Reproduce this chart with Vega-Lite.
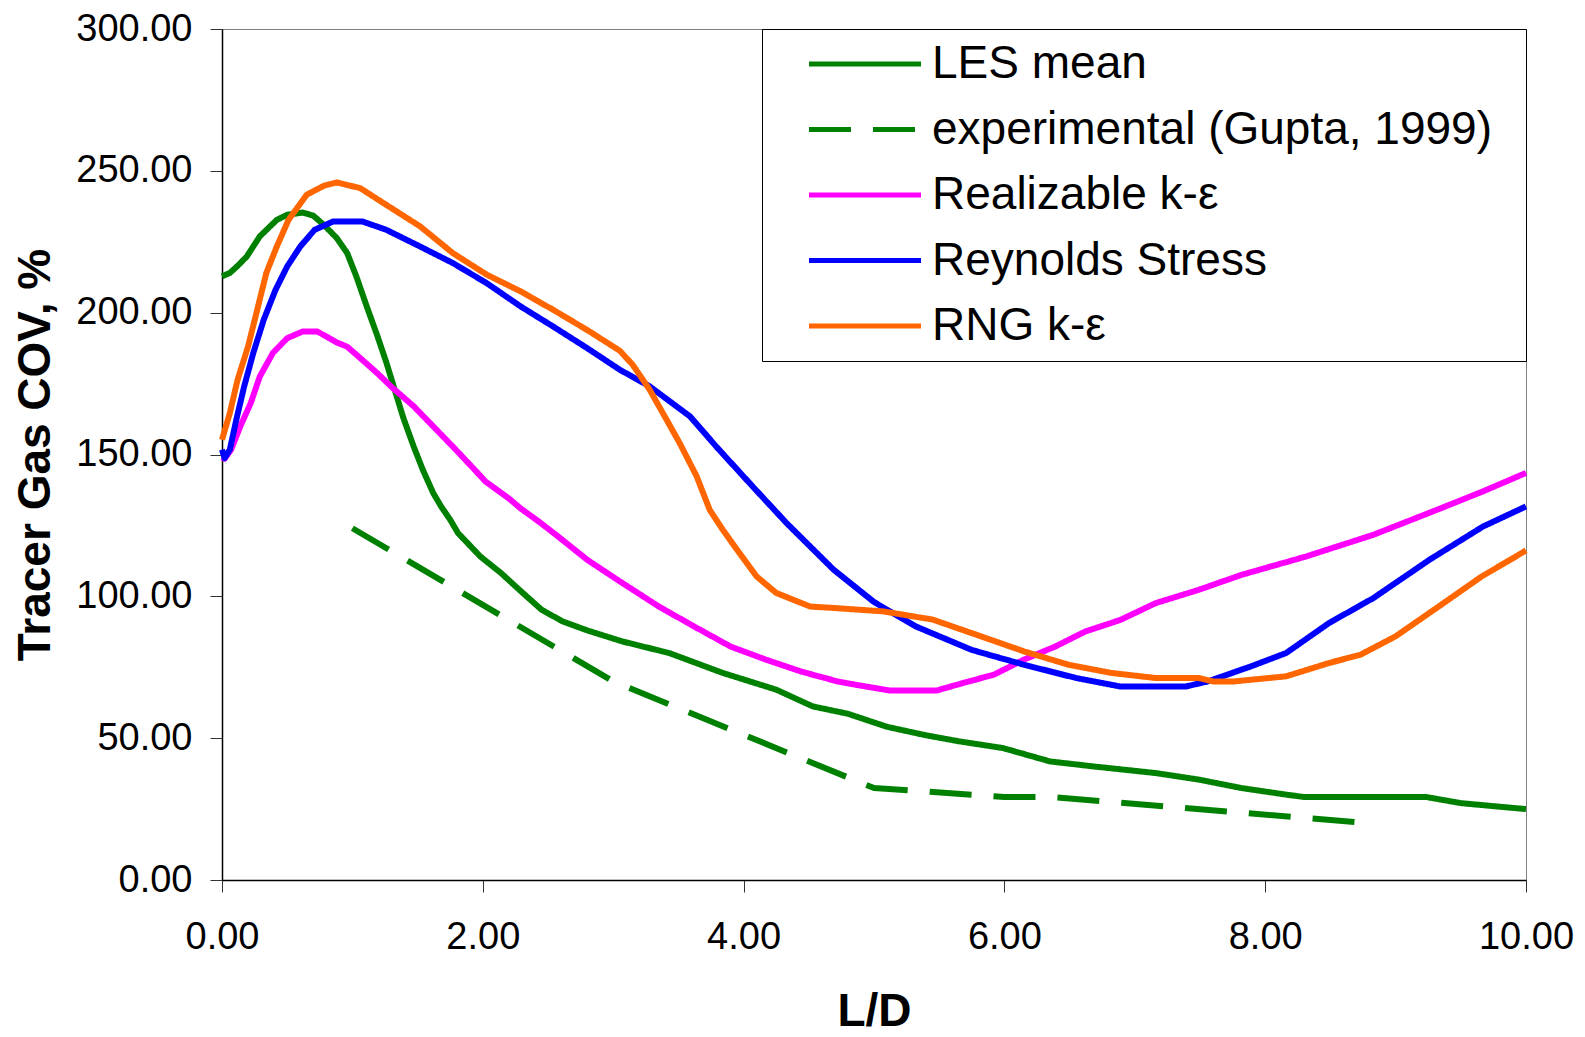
{
  "$schema": "https://vega.github.io/schema/vega-lite/v6.json",
  "width": 1304,
  "height": 851,
  "autosize": {"type": "none"},
  "padding": {"left": 222, "top": 29, "right": 59, "bottom": 157},
  "background": "white",
  "config": {
    "view": {"stroke": "#808080", "strokeWidth": 1},
    "font": "Liberation Sans"
  },
  "data": {
    "values": [
      {"series":"LES mean","LD":0,"COV":212.8},{"series":"LES mean","LD":0.06,"COV":214},{"series":"LES mean","LD":0.12,"COV":216.5},{"series":"LES mean","LD":0.19,"COV":219.8},{"series":"LES mean","LD":0.29,"COV":226.9},{"series":"LES mean","LD":0.42,"COV":232.7},{"series":"LES mean","LD":0.5,"COV":234.5},{"series":"LES mean","LD":0.62,"COV":235.3},{"series":"LES mean","LD":0.7,"COV":234.2},{"series":"LES mean","LD":0.78,"COV":231},{"series":"LES mean","LD":0.88,"COV":226.3},{"series":"LES mean","LD":0.96,"COV":221},{"series":"LES mean","LD":1.03,"COV":212.8},{"series":"LES mean","LD":1.11,"COV":202.2},{"series":"LES mean","LD":1.19,"COV":192},{"series":"LES mean","LD":1.26,"COV":182.5},{"series":"LES mean","LD":1.31,"COV":175},{"series":"LES mean","LD":1.39,"COV":163},{"series":"LES mean","LD":1.47,"COV":152.8},{"series":"LES mean","LD":1.54,"COV":144.6},{"series":"LES mean","LD":1.62,"COV":136.4},{"series":"LES mean","LD":1.68,"COV":131.7},{"series":"LES mean","LD":1.75,"COV":127},{"series":"LES mean","LD":1.81,"COV":122.3},{"series":"LES mean","LD":1.98,"COV":114.1},{"series":"LES mean","LD":2.14,"COV":108.2},{"series":"LES mean","LD":2.28,"COV":102.3},{"series":"LES mean","LD":2.45,"COV":95.3},{"series":"LES mean","LD":2.61,"COV":91.2},{"series":"LES mean","LD":2.8,"COV":88},{"series":"LES mean","LD":3.07,"COV":84.1},{"series":"LES mean","LD":3.43,"COV":80},{"series":"LES mean","LD":3.84,"COV":73},{"series":"LES mean","LD":4.25,"COV":67.1},{"series":"LES mean","LD":4.53,"COV":61.2},{"series":"LES mean","LD":4.8,"COV":58.6},{"series":"LES mean","LD":5.1,"COV":54},{"series":"LES mean","LD":5.4,"COV":51},{"series":"LES mean","LD":5.65,"COV":48.9},{"series":"LES mean","LD":5.99,"COV":46.5},{"series":"LES mean","LD":6.35,"COV":41.8},{"series":"LES mean","LD":6.69,"COV":40},{"series":"LES mean","LD":7.16,"COV":37.7},{"series":"LES mean","LD":7.49,"COV":35.4},{"series":"LES mean","LD":7.82,"COV":32.4},{"series":"LES mean","LD":8.16,"COV":30.1},{"series":"LES mean","LD":8.29,"COV":29.3},{"series":"LES mean","LD":9.23,"COV":29.3},{"series":"LES mean","LD":9.5,"COV":27.1},{"series":"LES mean","LD":9.83,"COV":25.7},{"series":"LES mean","LD":10,"COV":25},

      {"series":"experimental (Gupta, 1999)","LD":1.0,"COV":124},{"series":"experimental (Gupta, 1999)","LD":3.0,"COV":70},{"series":"experimental (Gupta, 1999)","LD":5.0,"COV":32.4},{"series":"experimental (Gupta, 1999)","LD":6.0,"COV":29.3},{"series":"experimental (Gupta, 1999)","LD":6.35,"COV":29.3},{"series":"experimental (Gupta, 1999)","LD":8.85,"COV":19.8},

      {"series":"Realizable k-ε","LD":0,"COV":149},{"series":"Realizable k-ε","LD":0.02,"COV":148.5},{"series":"Realizable k-ε","LD":0.07,"COV":151.7},{"series":"Realizable k-ε","LD":0.14,"COV":159.9},{"series":"Realizable k-ε","LD":0.22,"COV":168.1},{"series":"Realizable k-ε","LD":0.29,"COV":177.5},{"series":"Realizable k-ε","LD":0.39,"COV":185.8},{"series":"Realizable k-ε","LD":0.5,"COV":191},{"series":"Realizable k-ε","LD":0.62,"COV":193.4},{"series":"Realizable k-ε","LD":0.73,"COV":193.4},{"series":"Realizable k-ε","LD":0.88,"COV":189.5},{"series":"Realizable k-ε","LD":0.96,"COV":188},{"series":"Realizable k-ε","LD":1.06,"COV":184},{"series":"Realizable k-ε","LD":1.19,"COV":178.7},{"series":"Realizable k-ε","LD":1.31,"COV":173.4},{"series":"Realizable k-ε","LD":1.47,"COV":167},{"series":"Realizable k-ε","LD":1.62,"COV":159.9},{"series":"Realizable k-ε","LD":1.77,"COV":152.8},{"series":"Realizable k-ε","LD":1.93,"COV":145},{"series":"Realizable k-ε","LD":2.02,"COV":140.5},{"series":"Realizable k-ε","LD":2.11,"COV":137.5},{"series":"Realizable k-ε","LD":2.2,"COV":134.5},{"series":"Realizable k-ε","LD":2.29,"COV":131},{"series":"Realizable k-ε","LD":2.44,"COV":126},{"series":"Realizable k-ε","LD":2.58,"COV":121},{"series":"Realizable k-ε","LD":2.8,"COV":112.9},{"series":"Realizable k-ε","LD":3.07,"COV":104.7},{"series":"Realizable k-ε","LD":3.35,"COV":96.4},{"series":"Realizable k-ε","LD":3.62,"COV":89.4},{"series":"Realizable k-ε","LD":3.9,"COV":82.3},{"series":"Realizable k-ε","LD":4.17,"COV":77.7},{"series":"Realizable k-ε","LD":4.44,"COV":73.5},{"series":"Realizable k-ε","LD":4.72,"COV":70},{"series":"Realizable k-ε","LD":4.9,"COV":68.5},{"series":"Realizable k-ε","LD":5.12,"COV":66.8},{"series":"Realizable k-ε","LD":5.48,"COV":66.8},{"series":"Realizable k-ε","LD":5.68,"COV":69.4},{"series":"Realizable k-ε","LD":5.92,"COV":72.4},{"series":"Realizable k-ε","LD":6.15,"COV":77.7},{"series":"Realizable k-ε","LD":6.39,"COV":82.3},{"series":"Realizable k-ε","LD":6.62,"COV":87.6},{"series":"Realizable k-ε","LD":6.89,"COV":91.7},{"series":"Realizable k-ε","LD":7.16,"COV":97.6},{"series":"Realizable k-ε","LD":7.49,"COV":102.3},{"series":"Realizable k-ε","LD":7.82,"COV":107.6},{"series":"Realizable k-ε","LD":8.31,"COV":114},{"series":"Realizable k-ε","LD":8.83,"COV":121.7},{"series":"Realizable k-ε","LD":9.35,"COV":131.1},{"series":"Realizable k-ε","LD":9.67,"COV":137},{"series":"Realizable k-ε","LD":10,"COV":143.5},

      {"series":"Reynolds Stress","LD":0,"COV":151.7},{"series":"Reynolds Stress","LD":0.02,"COV":148.7},{"series":"Reynolds Stress","LD":0.06,"COV":151.7},{"series":"Reynolds Stress","LD":0.11,"COV":162.3},{"series":"Reynolds Stress","LD":0.17,"COV":174},{"series":"Reynolds Stress","LD":0.24,"COV":185.8},{"series":"Reynolds Stress","LD":0.32,"COV":197.5},{"series":"Reynolds Stress","LD":0.41,"COV":208},{"series":"Reynolds Stress","LD":0.5,"COV":216.3},{"series":"Reynolds Stress","LD":0.6,"COV":223.3},{"series":"Reynolds Stress","LD":0.71,"COV":229.2},{"series":"Reynolds Stress","LD":0.85,"COV":232.1},{"series":"Reynolds Stress","LD":1.08,"COV":232.1},{"series":"Reynolds Stress","LD":1.26,"COV":229.2},{"series":"Reynolds Stress","LD":1.52,"COV":223.3},{"series":"Reynolds Stress","LD":1.77,"COV":217.5},{"series":"Reynolds Stress","LD":2.03,"COV":210.4},{"series":"Reynolds Stress","LD":2.29,"COV":202.2},{"series":"Reynolds Stress","LD":2.54,"COV":195.1},{"series":"Reynolds Stress","LD":2.8,"COV":187.5},{"series":"Reynolds Stress","LD":3.05,"COV":179.9},{"series":"Reynolds Stress","LD":3.28,"COV":174},{"series":"Reynolds Stress","LD":3.59,"COV":163.4},{"series":"Reynolds Stress","LD":3.79,"COV":152.8},{"series":"Reynolds Stress","LD":4.07,"COV":138.7},{"series":"Reynolds Stress","LD":4.33,"COV":125.8},{"series":"Reynolds Stress","LD":4.69,"COV":109.4},{"series":"Reynolds Stress","LD":5.0,"COV":98},{"series":"Reynolds Stress","LD":5.32,"COV":89.4},{"series":"Reynolds Stress","LD":5.75,"COV":81.1},{"series":"Reynolds Stress","LD":6.15,"COV":75.9},{"series":"Reynolds Stress","LD":6.55,"COV":71.2},{"series":"Reynolds Stress","LD":6.89,"COV":68.2},{"series":"Reynolds Stress","LD":7.39,"COV":68.2},{"series":"Reynolds Stress","LD":7.56,"COV":70},{"series":"Reynolds Stress","LD":7.89,"COV":75.3},{"series":"Reynolds Stress","LD":8.16,"COV":80},{"series":"Reynolds Stress","LD":8.49,"COV":90.6},{"series":"Reynolds Stress","LD":8.83,"COV":99.4},{"series":"Reynolds Stress","LD":9.26,"COV":112.9},{"series":"Reynolds Stress","LD":9.67,"COV":124.6},{"series":"Reynolds Stress","LD":10,"COV":131.7},

      {"series":"RNG k-ε","LD":0,"COV":155.2},{"series":"RNG k-ε","LD":0.06,"COV":164.6},{"series":"RNG k-ε","LD":0.12,"COV":176.4},{"series":"RNG k-ε","LD":0.2,"COV":188.1},{"series":"RNG k-ε","LD":0.27,"COV":201},{"series":"RNG k-ε","LD":0.34,"COV":214},{"series":"RNG k-ε","LD":0.42,"COV":223.3},{"series":"RNG k-ε","LD":0.51,"COV":232.7},{"series":"RNG k-ε","LD":0.65,"COV":241.6},{"series":"RNG k-ε","LD":0.78,"COV":244.7},{"series":"RNG k-ε","LD":0.88,"COV":245.9},{"series":"RNG k-ε","LD":1.06,"COV":243.9},{"series":"RNG k-ε","LD":1.26,"COV":238},{"series":"RNG k-ε","LD":1.52,"COV":230.4},{"series":"RNG k-ε","LD":1.77,"COV":221},{"series":"RNG k-ε","LD":2.03,"COV":213.4},{"series":"RNG k-ε","LD":2.29,"COV":207.5},{"series":"RNG k-ε","LD":2.54,"COV":201},{"series":"RNG k-ε","LD":2.8,"COV":193.9},{"series":"RNG k-ε","LD":3.05,"COV":186.6},{"series":"RNG k-ε","LD":3.15,"COV":181.6},{"series":"RNG k-ε","LD":3.28,"COV":172.8},{"series":"RNG k-ε","LD":3.41,"COV":162.2},{"series":"RNG k-ε","LD":3.51,"COV":154},{"series":"RNG k-ε","LD":3.64,"COV":142.3},{"series":"RNG k-ε","LD":3.74,"COV":130.5},{"series":"RNG k-ε","LD":3.84,"COV":123.5},{"series":"RNG k-ε","LD":3.95,"COV":116.4},{"series":"RNG k-ε","LD":4.1,"COV":107},{"series":"RNG k-ε","LD":4.25,"COV":101.2},{"series":"RNG k-ε","LD":4.51,"COV":96.4},{"series":"RNG k-ε","LD":4.69,"COV":95.9},{"series":"RNG k-ε","LD":5.07,"COV":94.7},{"series":"RNG k-ε","LD":5.45,"COV":91.8},{"series":"RNG k-ε","LD":5.82,"COV":85.9},{"series":"RNG k-ε","LD":6.15,"COV":80.6},{"series":"RNG k-ε","LD":6.49,"COV":75.9},{"series":"RNG k-ε","LD":6.82,"COV":73},{"series":"RNG k-ε","LD":7.16,"COV":71.2},{"series":"RNG k-ε","LD":7.49,"COV":71.2},{"series":"RNG k-ε","LD":7.6,"COV":70},{"series":"RNG k-ε","LD":7.76,"COV":70},{"series":"RNG k-ε","LD":8.16,"COV":71.8},{"series":"RNG k-ε","LD":8.49,"COV":76.5},{"series":"RNG k-ε","LD":8.73,"COV":79.4},{"series":"RNG k-ε","LD":9.0,"COV":85.9},{"series":"RNG k-ε","LD":9.33,"COV":96.4},{"series":"RNG k-ε","LD":9.66,"COV":107},{"series":"RNG k-ε","LD":9.88,"COV":112.9},{"series":"RNG k-ε","LD":10,"COV":116.2}
    ]
  },
  "mark": {"type": "line", "strokeWidth": 6, "strokeJoin": "round", "strokeCap": "butt"},
  "encoding": {
    "x": {
      "field": "LD", "type": "quantitative",
      "scale": {"domain": [0, 10], "nice": false, "zero": false},
      "axis": {
        "title": "L/D", "values": [0, 2, 4, 6, 8, 10], "format": ".2f", "grid": false,
        "labelFont": "Liberation Sans", "labelFontSize": 38, "labelColor": "black",
        "labelPadding": 26, "labelFlush": false, "labelOverlap": false,
        "tickSize": 12, "tickColor": "#333333", "tickWidth": 1,
        "domainColor": "black", "domainWidth": 1.5,
        "titleFont": "Liberation Sans", "titleFontSize": 46, "titleFontWeight": "bold", "titleColor": "black", "titlePadding": 33
      }
    },
    "y": {
      "field": "COV", "type": "quantitative",
      "scale": {"domain": [0, 300], "nice": false, "zero": false},
      "axis": {
        "title": "Tracer Gas COV, %", "values": [0, 50, 100, 150, 200, 250, 300], "format": ".2f", "grid": false,
        "labelFont": "Liberation Sans", "labelFontSize": 38, "labelColor": "black",
        "labelPadding": 18, "labelFlush": false, "labelOverlap": false,
        "tickSize": 12, "tickColor": "#333333", "tickWidth": 1,
        "domainColor": "black", "domainWidth": 1.5,
        "titleFont": "Liberation Sans", "titleFontSize": 46, "titleFontWeight": "bold", "titleColor": "black", "titlePadding": 16
      }
    },
    "color": {
      "field": "series", "type": "nominal",
      "scale": {
        "domain": ["LES mean", "experimental (Gupta, 1999)", "Realizable k-ε", "Reynolds Stress", "RNG k-ε"],
        "range": ["#008000", "#008000", "#FF00FF", "#0000FF", "#FF6600"]
      },
      "legend": {
        "title": " ", "titleOrient": "right", "titleFontSize": 1, "titlePadding": 22,
        "orient": "top-right", "offset": 0, "padding": 12,
        "strokeColor": "black", "fillColor": "white",
        "labelFont": "Liberation Sans", "labelFontSize": 46, "labelColor": "black", "labelLimit": 1000,
        "symbolType": "M-5,0H5", "symbolSize": 502, "symbolStrokeWidth": 5,
        "symbolOffset": 68, "labelOffset": 44, "rowPadding": 19.5
      }
    },
    "strokeDash": {
      "field": "series", "type": "nominal",
      "scale": {
        "domain": ["LES mean", "experimental (Gupta, 1999)", "Realizable k-ε", "Reynolds Stress", "RNG k-ε"],
        "range": [[1, 0], [42, 22], [1, 0], [1, 0], [1, 0]]
      },
      "legend": {
        "title": " ", "titleOrient": "right", "titleFontSize": 1, "titlePadding": 22,
        "orient": "top-right", "offset": 0, "padding": 12,
        "strokeColor": "black", "fillColor": "white",
        "labelFont": "Liberation Sans", "labelFontSize": 46, "labelColor": "black", "labelLimit": 1000,
        "symbolType": "M-5,0H5", "symbolSize": 502, "symbolStrokeWidth": 5,
        "symbolOffset": 68, "labelOffset": 44, "rowPadding": 19.5
      }
    }
  }
}
